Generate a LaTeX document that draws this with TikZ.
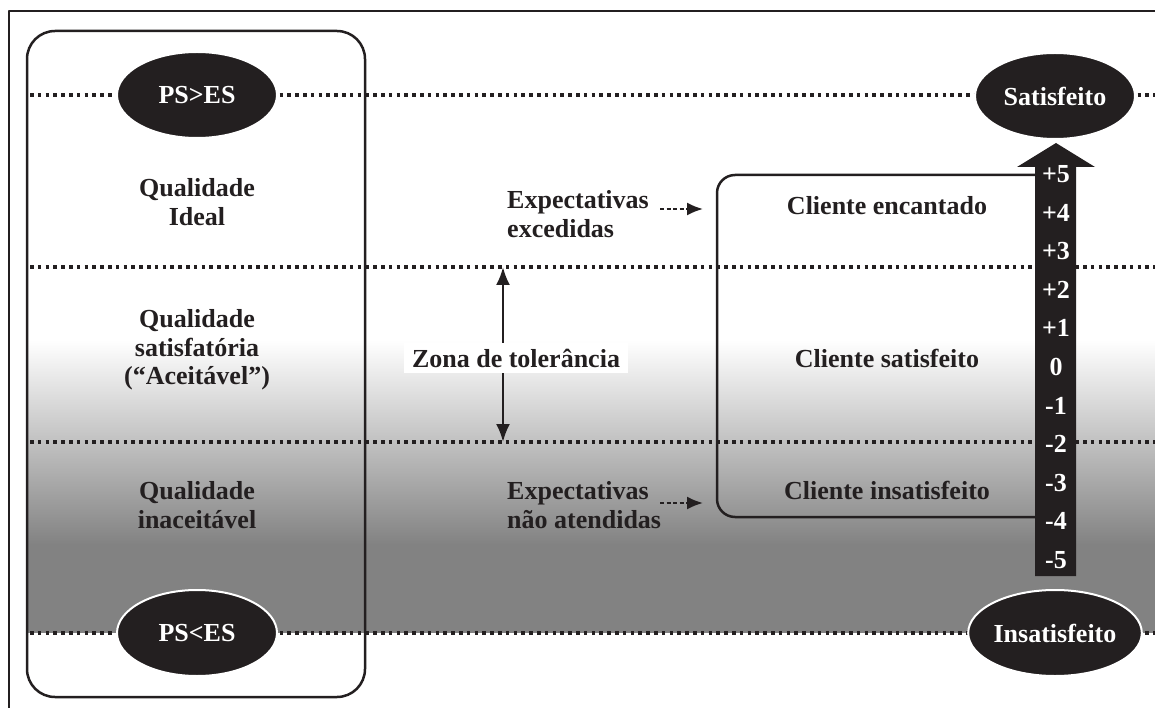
\documentclass[tikz,border=0pt]{standalone}
\usepackage{fontspec}
\setmainfont{Liberation Serif}
\usetikzlibrary{shapes.geometric,arrows.meta}
\definecolor{tinta}{RGB}{35,31,32}
\definecolor{cinza}{RGB}{130,130,130}
\begin{document}
\begin{tikzpicture}[x=1pt,y=-1pt,line join=round,
		rotulo/.style={font=\fontsize{26}{28.5}\selectfont\bfseries,text=tinta,align=center,inner sep=4pt},
		elipse/.style={ellipse,fill=tinta,draw=white,line width=2pt,minimum width=160pt,minimum height=86pt,inner sep=0pt,font=\fontsize{26}{28.5}\selectfont\bfseries,text=white},
		numero/.style={font=\fontsize{26}{28.5}\selectfont\bfseries,text=white,inner sep=0pt},
		pontilhado/.style={tinta,line width=3.6pt,dash pattern=on 3.6pt off 4.2pt},
		tracejada/.style={tinta,line width=2pt,dash pattern=on 4pt off 2.5pt,-{Latex[length=16pt,width=13pt]}},
		seta/.style={tinta,line width=2.5pt,-{Latex[length=18pt,width=14pt]}}]
	\useasboundingbox (0,0) rectangle (1155,708);
	%%%fundo
	\shade[top color=white,bottom color=cinza] (27,340) rectangle (1155,545);
	\fill[cinza] (27,544) rectangle (1155,633);
	\draw[tinta,line width=2pt] (9,708)--(9,11)--(1155,11);
	%%%linhas pontilhadas
	\foreach \y in {95,267,442,633}
	\draw[pontilhado] (30,\y)--(1155,\y);
	%%%caixa da esquerda
	\node[draw=tinta,line width=2.5pt,rounded corners=28pt,minimum width=338pt,minimum height=666pt,inner sep=0pt] (caixa) at (196,364) {};
	\node[rotulo] (ideal) at (197,202) {Qualidade\\Ideal};
	\node[rotulo] (aceit) at (197,350) {Qualidade\\satisfatória\\(“Aceitável”)};
	\node[rotulo] (inaceit) at (197,505) {Qualidade\\inaceitável};
	\node[elipse] (maior) at (197,95) {PS>ES};
	\node[elipse] (menor) at (197,633) {PS<ES};
	%%%centro
	\node[rotulo,align=left,anchor=west] (excedidas) at (503,214) {Expectativas\\excedidas};
	\node[rotulo,align=left,anchor=west] (naoatend) at (503,505) {Expectativas\\não atendidas};
	\coordinate (e1) at (660,209);
	\coordinate (e2) at (703,209);
	\coordinate (n1) at (660,503);
	\coordinate (n2) at (703,503);
	\draw[tracejada] (e1)--(e2);
	\draw[tracejada] (n1)--(n2);
	\node[rotulo,fill=white,inner xsep=8pt,inner ysep=6pt] (zona) at (516,358) {Zona de tolerância};
	\coordinate (zt) at (503,267);
	\coordinate (zb) at (503,442);
	\draw[seta] (zt|-zona.north)--(zt);
	\draw[seta] (zb|-zona.south)--(zb);
	%%%caixa do cliente e escala
	\draw[tinta,line width=2.5pt,rounded corners=18pt] (1040,175)--(717,175)--(717,517)--(1040,517);
	\node[rotulo] (encant) at (887,206) {Cliente encantado};
	\node[rotulo] (satisf) at (887,358) {Cliente satisfeito};
	\node[rotulo] (insatisf) at (887,490) {Cliente insatisfeito};
	\fill[tinta] (1035,576)--(1035,167)--(1017,167)--(1056,143)--(1095,167)--(1076,167)--(1076,576)--cycle;
	\foreach \v [count=\k from 0] in {+5,+4,+3,+2,+1,0,-1,-2,-3,-4,-5}
	\node[numero] (num\k) at (1056,{174+38.6*\k}) {\v};
	\node[elipse] (sat) at (1055,96) {Satisfeito};
	\node[elipse] (insat) at (1055,633) {Insatisfeito};
\end{tikzpicture}
\end{document}
